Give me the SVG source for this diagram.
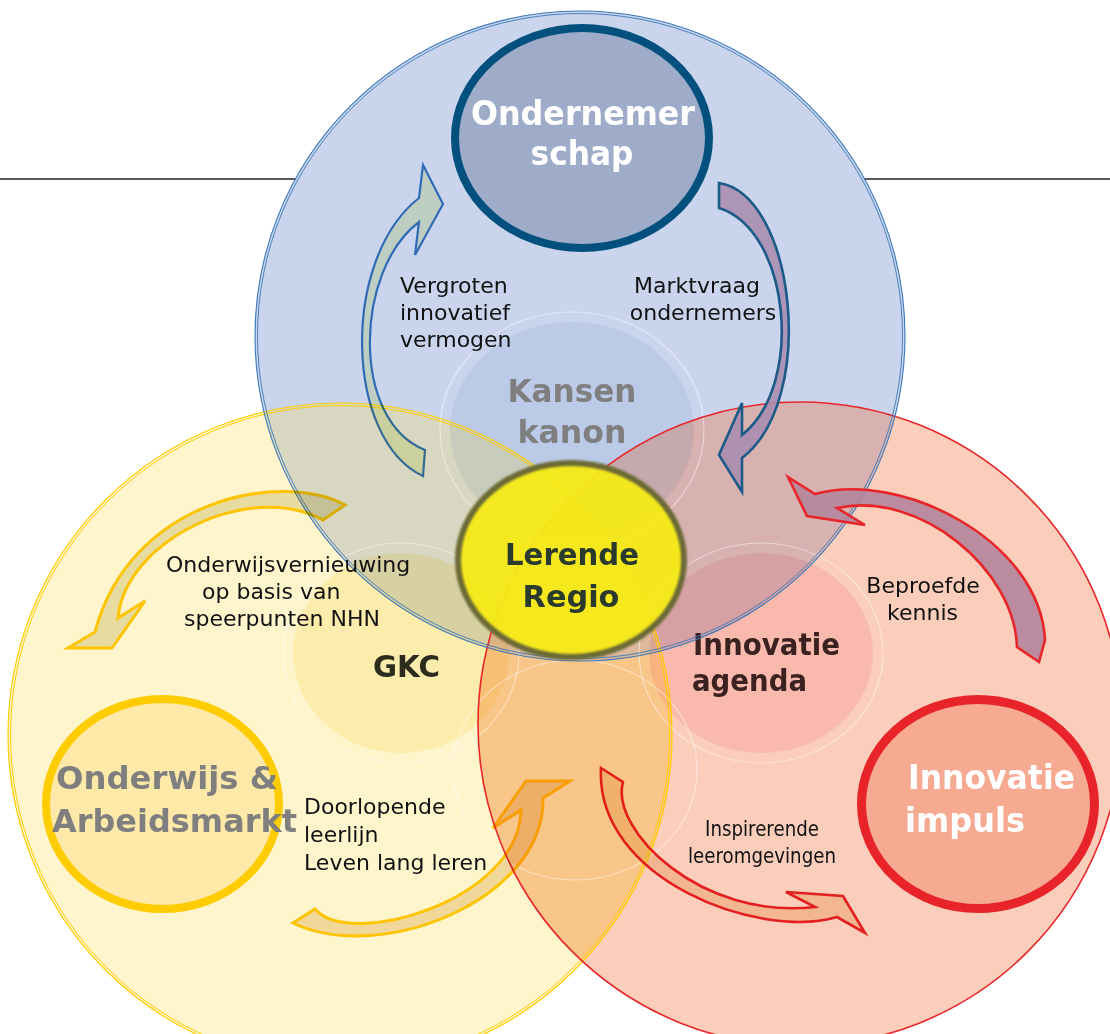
<svg xmlns="http://www.w3.org/2000/svg" width="1110" height="1034" viewBox="0 0 1110 1034">
<style>
.t{font-family:"DejaVu Sans","Liberation Sans",sans-serif;font-size:22px;fill:#111}
.b{font-family:"DejaVu Sans","Liberation Sans",sans-serif;font-weight:bold}
.ring{fill:none;stroke:#ffffff;stroke-opacity:0.45;stroke-width:1.2}
.mul{mix-blend-mode:multiply}
.arB{stroke:#3D7FC4;stroke-width:2.2;stroke-linejoin:miter}
.arN{stroke:#1C5A87;stroke-width:2.6}
.arR{stroke:#E8262A;stroke-width:2.6}
.arY{stroke:#FFCC00;stroke-width:3}
</style>
<defs>
<clipPath id="cY"><circle cx="340" cy="735" r="332"/></clipPath>
<clipPath id="cR"><circle cx="800" cy="724" r="322"/></clipPath>
<filter id="soft" x="-10%" y="-10%" width="120%" height="120%"><feGaussianBlur stdDeviation="0.9"/></filter>
</defs>
<rect width="1110" height="1034" fill="#ffffff"/>
<line x1="0" y1="179" x2="1110" y2="179" stroke="#222" stroke-width="1.3"/>

<g id="regions">
<circle cx="340" cy="735" r="332" fill="#FEF5CD"/>
<circle cx="800" cy="724" r="322" fill="#FACEBA"/>
<circle cx="580" cy="336" r="325" fill="#CAD5ED"/>
<circle cx="800" cy="724" r="322" fill="#F9C68A" clip-path="url(#cY)"/>
<circle cx="580" cy="336" r="325" fill="#D8D7C1" clip-path="url(#cY)"/>
<circle cx="580" cy="336" r="325" fill="#D7B2B1" clip-path="url(#cR)"/>
<g clip-path="url(#cY)"><circle cx="580" cy="336" r="325" fill="#DDB99C" clip-path="url(#cR)"/></g>
</g>

<g id="node-kansen">
<ellipse cx="572" cy="430" rx="122" ry="108" fill="#EBF2F9" class="mul"/>
<ellipse cx="572" cy="430" rx="132" ry="118" class="ring"/>
<text class="b" x="572" y="402" font-size="32" fill="#7F7F7F" text-anchor="middle" textLength="129" lengthAdjust="spacingAndGlyphs">Kansen</text>
<text class="b" x="572" y="443" font-size="32" fill="#7F7F7F" text-anchor="middle" textLength="109" lengthAdjust="spacingAndGlyphs">kanon</text>
</g>
<g id="node-gkc">
<ellipse cx="401" cy="653" rx="108" ry="100" fill="#FEF7D6" class="mul"/>
<ellipse cx="401" cy="653" rx="118" ry="110" class="ring"/>
<text class="b" x="406.5" y="677" font-size="31" fill="#2B2B1E" text-anchor="middle" textLength="67" lengthAdjust="spacingAndGlyphs">GKC</text>
</g>
<g id="node-agenda">
<ellipse cx="761" cy="653" rx="112" ry="100" fill="#FEE7EE" class="mul"/>
<ellipse cx="761" cy="653" rx="122" ry="110" class="ring"/>
<text class="b" x="693" y="655" font-size="30" fill="#3B2220" textLength="147" lengthAdjust="spacingAndGlyphs">Innovatie</text>
<text class="b" x="692" y="691" font-size="30" fill="#3B2220" textLength="115" lengthAdjust="spacingAndGlyphs">agenda</text>
</g>
<ellipse cx="575" cy="770" rx="122" ry="110" class="ring"/>

<g id="outlines" fill="none">
<circle cx="340" cy="735" r="332" stroke="#FFCC00" stroke-width="1.2"/>
<circle cx="340" cy="735" r="329.5" stroke="#FFCC00" stroke-width="1"/>
<circle cx="800" cy="724" r="322" stroke="#E8262A" stroke-width="1.6"/>
<circle cx="580" cy="336" r="325" stroke="#3A78B8" stroke-width="1.1"/>
<circle cx="580" cy="336" r="322.5" stroke="#3A78B8" stroke-width="0.9"/>
</g>

<g id="connectors">
<path class="arB mul" fill="#F0F7D2" d="M423,476 C345,440 340,260 419,198 L423,165 L443,204 L415,255 L419,222 C355,270 350,420 425,450 Z"/>
<path class="arN" fill="#A88CB0" fill-opacity="0.88" d="M719,183 C795,195 818,400 742,458 L742,492 L719,455 L742,403 L742,435 C805,385 790,230 719,208 Z"/>
<path class="arR" fill="#B4859C" fill-opacity="0.9" d="M815,494 C900,470 1040,540 1045,640 L1039,662 L1017,647 C1015,570 920,490 837,508 L865,525 L807,516 L788,477 Z"/>
<path class="arR mul" fill="#F7E3C6" d="M601,768 L623,782 C610,830 700,920 815,907 L786,892 L843,896 L865,933 L837,917 C760,940 595,880 601,768 Z"/>
<path class="arY mul" fill="#F3E0C0" d="M293,923 L315,909 C350,950 520,900 521,810 L493,828 L526,781 L570,781 L543,798 C545,900 380,965 293,923 Z"/>
<path class="arY mul" fill="#E9E4C6" d="M345,505 C280,470 130,500 95,632 L68,648 L112,648 L145,601 L118,618 C125,540 250,480 323,520 Z"/>
<text class="t" x="400" y="293">Vergroten</text>
<text class="t" x="400" y="320">innovatief</text>
<text class="t" x="400" y="347">vermogen</text>
<text class="t" x="697" y="293" text-anchor="middle">Marktvraag</text>
<text class="t" x="703" y="320" text-anchor="middle">ondernemers</text>
<text class="t" x="166" y="572">Onderwijsvernieuwing</text>
<text class="t" x="202" y="599">op basis van</text>
<text class="t" x="184" y="626">speerpunten NHN</text>
<text class="t" x="923" y="593" text-anchor="middle">Beproefde</text>
<text class="t" x="922.5" y="620" text-anchor="middle">kennis</text>
<text class="t" x="304" y="814">Doorlopende</text>
<text class="t" x="304" y="842">leerlijn</text>
<text class="t" x="304" y="870">Leven lang leren</text>
<text class="t" x="762" y="836" font-size="23" text-anchor="middle" textLength="114" lengthAdjust="spacingAndGlyphs">Inspirerende</text>
<text class="t" x="762" y="863" font-size="23" text-anchor="middle" textLength="148" lengthAdjust="spacingAndGlyphs">leeromgevingen</text>
</g>

<g id="node-ondernemerschap">
<ellipse cx="582" cy="138" rx="127" ry="110" fill="#9FACC9" stroke="#02507E" stroke-width="8"/>
<text class="b" x="583" y="125" font-size="33" fill="#ffffff" text-anchor="middle" textLength="224" lengthAdjust="spacingAndGlyphs">Ondernemer</text>
<text class="b" x="582" y="165" font-size="33" fill="#ffffff" text-anchor="middle" textLength="103" lengthAdjust="spacingAndGlyphs">schap</text>
</g>

<g id="node-onderwijs">
<ellipse cx="162.5" cy="804" rx="116.5" ry="105" fill="#FEE9A9" stroke="#FFCC00" stroke-width="8"/>
<text class="b" x="56" y="789" font-size="32" fill="#7F7F7F" textLength="222" lengthAdjust="spacingAndGlyphs">Onderwijs &amp;</text>
<text class="b" x="52" y="832" font-size="32" fill="#7F7F7F" textLength="245" lengthAdjust="spacingAndGlyphs">Arbeidsmarkt</text>
</g>

<g id="node-impuls">
<ellipse cx="978" cy="804" rx="116.5" ry="104.5" fill="#F7AA92" stroke="#E8242A" stroke-width="9"/>
<text class="b" x="908" y="789" font-size="33" fill="#ffffff" textLength="167" lengthAdjust="spacingAndGlyphs">Innovatie</text>
<text class="b" x="905" y="832" font-size="33" fill="#ffffff" textLength="120" lengthAdjust="spacingAndGlyphs">impuls</text>
</g>

<g id="node-lerende">
<ellipse cx="571" cy="560" rx="113" ry="97" fill="#F5EA15" fill-opacity="0.95"/>
<ellipse cx="571" cy="560" rx="113" ry="97" fill="none" stroke="#6C6B36" stroke-width="6" filter="url(#soft)"/>
<text class="b" x="572" y="565" font-size="30" fill="#2A3A2C" text-anchor="middle" textLength="134" lengthAdjust="spacingAndGlyphs">Lerende</text>
<text class="b" x="571" y="607" font-size="30" fill="#2A3A2C" text-anchor="middle" textLength="97" lengthAdjust="spacingAndGlyphs">Regio</text>
</g>
</svg>
